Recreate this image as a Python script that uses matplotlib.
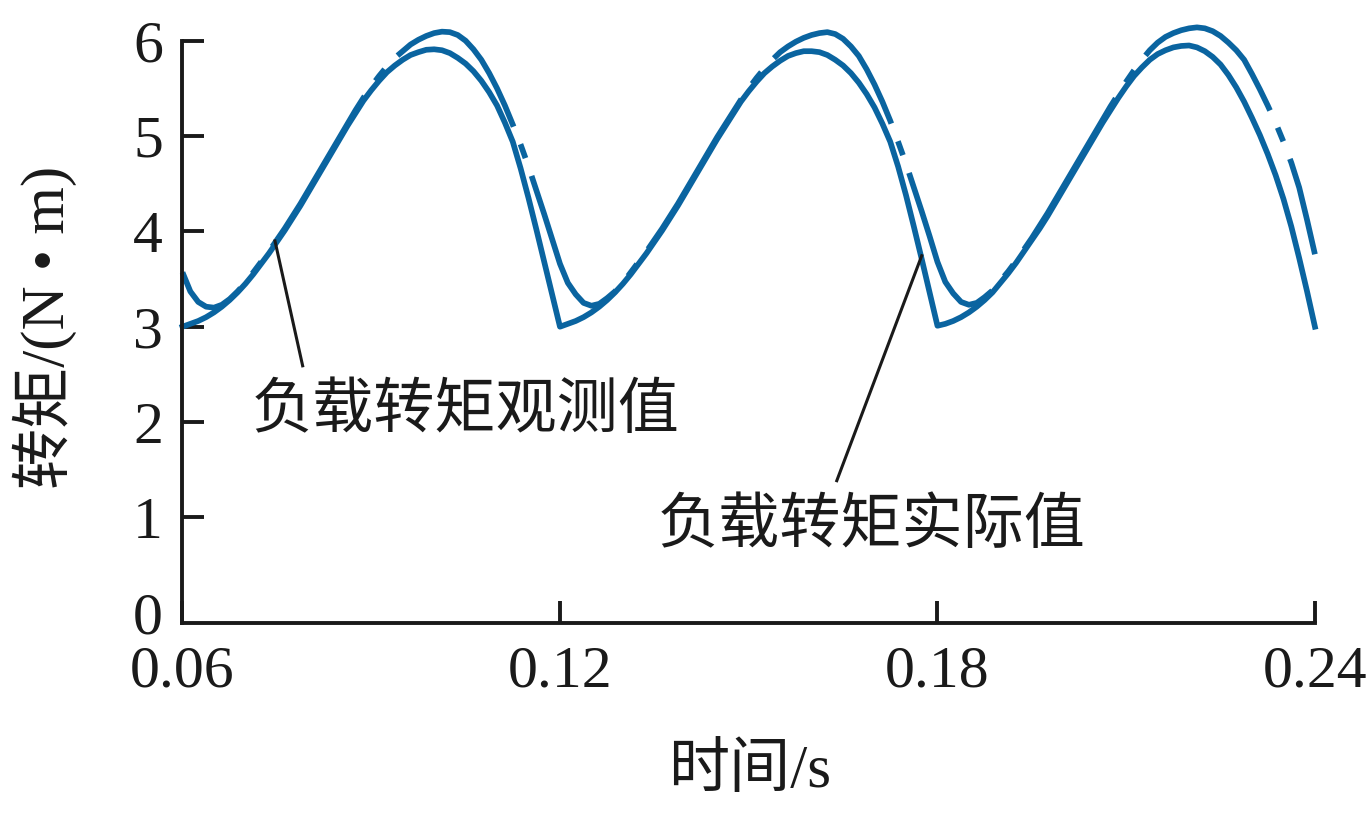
import numpy as np
import matplotlib
matplotlib.use("Agg")
import matplotlib.pyplot as plt

# 时间轴 (s)，0.00125 s 一个点
t = np.linspace(0.06, 0.24, 145)

# 负载转矩实际值 (N·m)
actual = [
    # 0.06 - 0.12
    3.00, 3.03, 3.06, 3.10, 3.15, 3.21, 3.28, 3.36, 3.45, 3.55, 3.66, 3.77,
    3.89, 4.01, 4.14, 4.27, 4.41, 4.55, 4.69, 4.83, 4.97, 5.11, 5.24, 5.37,
    5.48, 5.58, 5.67, 5.74, 5.80, 5.85, 5.88, 5.905, 5.91, 5.90, 5.87, 5.82,
    5.76, 5.68, 5.58, 5.46, 5.32, 5.14, 4.94, 4.66, 4.35, 4.02, 3.68, 3.34, 3.00,
    # 0.12125 - 0.18
    3.03, 3.06, 3.10, 3.15, 3.21, 3.28, 3.36, 3.45, 3.55, 3.66, 3.77, 3.89,
    4.01, 4.14, 4.27, 4.41, 4.55, 4.69, 4.83, 4.97, 5.10, 5.23, 5.36, 5.47,
    5.57, 5.66, 5.73, 5.79, 5.84, 5.87, 5.89, 5.89, 5.88, 5.85, 5.80, 5.74,
    5.66, 5.56, 5.44, 5.30, 5.13, 4.94, 4.68, 4.38, 4.05, 3.71, 3.36, 3.01,
    # 0.18125 - 0.24
    3.03, 3.06, 3.10, 3.15, 3.21, 3.28, 3.36, 3.46, 3.56, 3.67, 3.79, 3.91,
    4.03, 4.16, 4.30, 4.44, 4.58, 4.72, 4.86, 5.00, 5.14, 5.27, 5.40, 5.52,
    5.63, 5.72, 5.80, 5.86, 5.90, 5.93, 5.945, 5.95, 5.93, 5.89, 5.83, 5.75,
    5.64, 5.51, 5.36, 5.19, 5.01, 4.81, 4.59, 4.34, 4.05, 3.72, 3.37, 3.00,
]

# 负载转矩观测值 (N·m)
observed = [
    # 0.06 - 0.12
    3.57, 3.37, 3.26, 3.21, 3.20, 3.23, 3.29, 3.37, 3.46, 3.57, 3.68, 3.79,
    3.91, 4.03, 4.16, 4.29, 4.43, 4.57, 4.71, 4.85, 4.99, 5.13, 5.27, 5.40,
    5.52, 5.63, 5.73, 5.82, 5.89, 5.96, 6.01, 6.05, 6.08, 6.095, 6.09, 6.06,
    6.00, 5.91, 5.80, 5.66, 5.50, 5.32, 5.12, 4.91, 4.68, 4.43, 4.18, 3.92, 3.66,
    # 0.12125 - 0.18
    3.46, 3.34, 3.25, 3.22, 3.24, 3.30, 3.37, 3.46, 3.57, 3.68, 3.79, 3.91,
    4.03, 4.16, 4.29, 4.43, 4.57, 4.71, 4.85, 4.99, 5.12, 5.25, 5.38, 5.50,
    5.61, 5.71, 5.80, 5.88, 5.94, 5.99, 6.03, 6.06, 6.08, 6.09, 6.07, 6.02,
    5.94, 5.84, 5.70, 5.54, 5.36, 5.16, 4.94, 4.71, 4.46, 4.21, 3.95, 3.68,
    # 0.18125 - 0.24
    3.47, 3.35, 3.26, 3.23, 3.25, 3.31, 3.38, 3.48, 3.58, 3.69, 3.81, 3.93,
    4.06, 4.19, 4.33, 4.47, 4.61, 4.75, 4.89, 5.03, 5.17, 5.31, 5.44, 5.57,
    5.69, 5.80, 5.90, 5.98, 6.04, 6.08, 6.11, 6.13, 6.14, 6.13, 6.10, 6.05,
    5.98, 5.90, 5.80, 5.65, 5.49, 5.32, 5.14, 4.94, 4.72, 4.46, 4.12, 3.76,
]

xticks = [0.06, 0.12, 0.18, 0.24]
xticklabels = ["0.06", "0.12", "0.18", "0.24"]
yticks = [0, 1, 2, 3, 4, 5, 6]

blue = "#0a64a0"
ink = "#1a1a1a"
fam = ["Liberation Serif", "Noto Sans CJK SC"]
plt.rcParams["font.family"] = fam

fig = plt.figure(figsize=(13.7, 8.16), dpi=100)
ax = fig.add_axes([0.1332, 0.2365, 0.8266, 0.7136])

ax.plot(t, actual, color=blue, lw=4.1, clip_on=False, solid_joinstyle="round")
ax.plot(t, observed, color=blue, lw=4.1, clip_on=False,
        linestyle=(16.2, (31.0, 3.3, 2.6, 3.3)), dash_capstyle="butt")

ax.set_xlim(0.06, 0.24)
ax.set_ylim(-0.108, 6)
ax.set_xticks(xticks)
ax.set_xticklabels(xticklabels)
ax.set_yticks(yticks)

for s in ["top", "right"]:
    ax.spines[s].set_visible(False)
for s in ["left", "bottom"]:
    ax.spines[s].set_linewidth(2.8)
    ax.spines[s].set_color(ink)

ax.tick_params(axis="both", direction="in", length=15.8, width=2.8,
               colors=ink, labelsize=43)
ax.tick_params(axis="y", pad=14)
ax.tick_params(axis="x", pad=16)
ax.yaxis.get_major_ticks()[0].tick1line.set_visible(False)

# 坐标轴标题
fig.text(45 / 1370, 1 - 327 / 816, "转矩/(N • m)", rotation=90, ha="center",
         va="center", fontsize=44, color=ink, family=fam)
fig.text(750 / 1370, 1 - 772 / 816, "时间/s", ha="center", va="center",
         fontsize=44, color=ink, family=fam)

# 标注
ax.plot([0.0747, 0.0791], [3.90, 2.59], color=ink, lw=2.2)
ax.text(0.105, 2.10, "负载转矩观测值", ha="center", va="center",
        fontsize=44, color=ink)
ax.plot([0.1775, 0.1640], [3.745, 1.385], color=ink, lw=2.2)
ax.text(0.1695, 0.89, "负载转矩实际值", ha="center", va="center",
        fontsize=44, color=ink)

fig.savefig("out.png", dpi=100)
